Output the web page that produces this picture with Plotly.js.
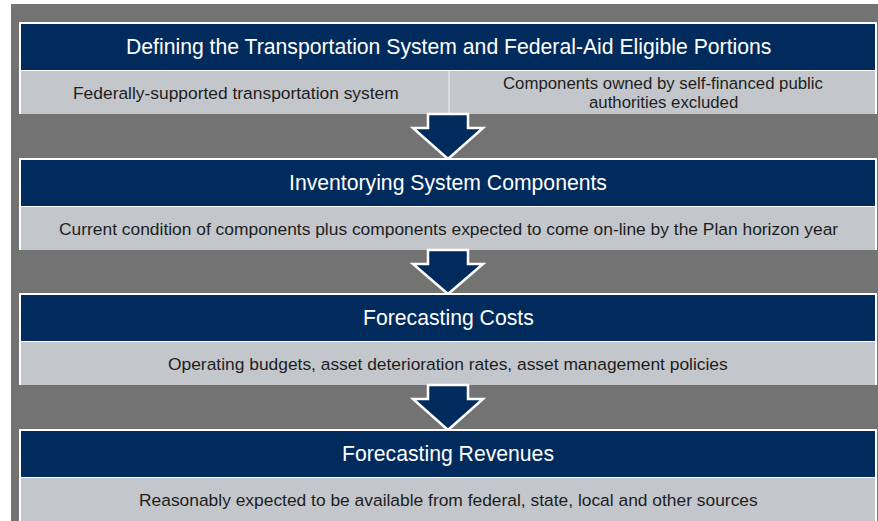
<!DOCTYPE html>
<html>
<head>
<meta charset="utf-8">
<script src="https://cdn.plot.ly/plotly-3.0.1.min.js"></script>
<style>html,body{margin:0;padding:0;background:#fff;}#chart{width:878px;height:521px;}</style>
</head>
<body>
<div id="chart"></div>
<script>
// Diagram content
const stepTitles = [
  "Defining the Transportation System and Federal-Aid Eligible Portions",
  "Inventorying System Components",
  "Forecasting Costs",
  "Forecasting Revenues"
];
const stepDetails = [
  ["Federally-supported transportation system", "Components owned by self-financed public<br>authorities excluded"],
  ["Current condition of components plus components expected to come on-line by the Plan horizon year"],
  ["Operating budgets, asset deterioration rates, asset management policies"],
  ["Reasonably expected to be available from federal, state, local and other sources"]
];

// Layout geometry (pixels, y downward)
const W = 878, H = 521;
const boxTops = [22, 158, 293, 429];
const boxL = 19, boxR = 877, headH = 46, bodyH = 43;
const cx = 448;
const NAVY = "#002b5c", LIGHT = "#c3c6cb", OUTER = "#737373", WHITE = "#ffffff";
const FONT = "Arial, Liberation Sans, sans-serif";
const titleSize = 21.2, detailSize = 17.4;

const shapes = [];
const annotations = [];
shapes.push({type:"rect", xref:"x", yref:"y", x0:11, x1:W, y0:4, y1:H, fillcolor:OUTER, line:{width:0}, layer:"below"});

function addText(x, y, txt, size, color) {
  annotations.push({x:x, y:y, xref:"x", yref:"y", text:txt, showarrow:false,
    font:{family:FONT, size:size, color:color}, xanchor:"center", yanchor:"middle"});
}

boxTops.forEach((T, i) => {
  shapes.push({type:"rect", xref:"x", yref:"y", x0:boxL, x1:boxR, y0:T, y1:T+headH+bodyH+3, fillcolor:WHITE, line:{width:0}});
  shapes.push({type:"rect", xref:"x", yref:"y", x0:boxL+2, x1:boxR-2, y0:T+2, y1:T+2+headH, fillcolor:NAVY, line:{width:0}});
  shapes.push({type:"rect", xref:"x", yref:"y", x0:boxL+2, x1:boxR-2, y0:T+3+headH, y1:T+3+headH+bodyH, fillcolor:LIGHT, line:{width:0}});
  addText(cx, T+2+headH/2, stepTitles[i], titleSize, "#ffffff");
  const det = stepDetails[i];
  const yMid = T+3+headH+bodyH/2;
  if (det.length === 1) {
    addText(cx, yMid, det[0], detailSize, "#1e1e1e");
  } else {
    const mid = 449;
    shapes.push({type:"line", xref:"x", yref:"y", x0:mid, x1:mid, y0:T+3+headH, y1:T+3+headH+bodyH, line:{color:"#e4e5e8", width:1.5}});
    addText((boxL+mid)/2+2, yMid, det[0], detailSize, "#1e1e1e");
    const lines = det[1].split("<br>");
    const step = 19;
    lines.forEach((ln, k) => addText((mid+boxR)/2, yMid + (k-(lines.length-1)/2)*step, ln, 16.8, "#1e1e1e"));
  }
  if (i < boxTops.length - 1) {
    const y0 = T+headH+bodyH+3, y1 = boxTops[i+1]+1, yh = y0+14;
    const p = `M428,${y0} L468,${y0} L468,${yh} L483,${yh} L${cx},${y1} L413,${yh} L428,${yh} Z`;
    shapes.push({type:"path", xref:"x", yref:"y", path:p, fillcolor:NAVY, line:{color:WHITE, width:2.5}});
  }
});

Plotly.newPlot("chart", [{x:[0], y:[0], mode:"markers", marker:{opacity:0}, hoverinfo:"skip", showlegend:false}], {
  width:W, height:H,
  margin:{l:0, r:0, t:0, b:0},
  paper_bgcolor:"#ffffff", plot_bgcolor:"#ffffff",
  xaxis:{range:[0,W], visible:false, fixedrange:true},
  yaxis:{range:[H,0], visible:false, fixedrange:true},
  shapes:shapes, annotations:annotations, showlegend:false
}, {displayModeBar:false, staticPlot:true});
</script>
</body>
</html>
